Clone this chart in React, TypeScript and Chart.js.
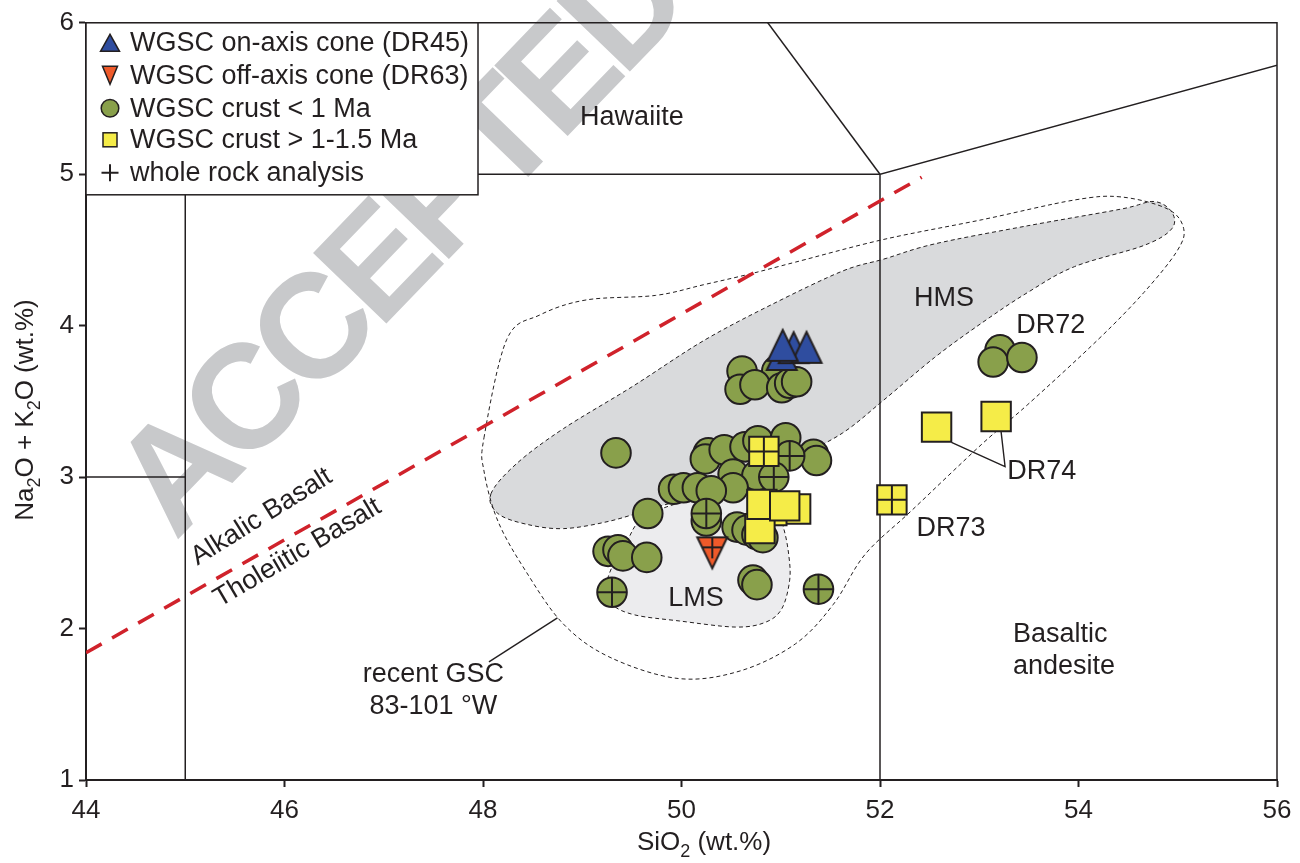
import React, { useEffect, useRef } from 'react';
import { Chart, registerables } from 'chart.js';

Chart.register(...registerables);

const FONT = '"Liberation Sans", Arial, Helvetica, sans-serif';
const INK = '#231f20';
const GREEN = '#89a04b';
const YELLOW = '#f5ec48';
const BLUE = '#2f4d9f';
const ORANGE = '#ef5a2a';
const RED = '#d0222b';
const HMS_FILL = '#d9dadc';
const LMS_FILL = '#ececee';
const WATERMARK = '#c8c9cb';

type P = [number, number];

// axes
const xMin = 44, xMax = 56, xStep = 2;
const yMin = 1, yMax = 6, yStep = 1;

// WGSC crust < 1 Ma (glass)
const youngCrust: P[] = [
  [50.61, 3.70], [50.96, 3.70], [50.59, 3.58], [50.74, 3.61], [51.01, 3.59], [51.09, 3.62], [51.16, 3.63],
  [49.34, 3.16], [50.27, 3.16], [50.24, 3.12], [50.43, 3.18], [50.64, 3.20], [50.77, 3.24], [51.05, 3.26],
  [51.33, 3.15], [51.36, 3.11], [50.52, 3.02], [50.76, 3.01], [50.52, 2.93], [49.92, 2.92], [50.02, 2.93],
  [50.16, 2.93], [50.30, 2.91], [49.66, 2.76], [50.25, 2.71],
  [50.56, 2.67], [50.66, 2.65], [50.76, 2.62], [50.82, 2.60],
  [49.26, 2.51], [49.36, 2.52], [49.41, 2.48], [49.65, 2.47],
  [50.72, 2.32], [50.76, 2.29],
  [53.21, 3.84], [53.14, 3.76], [53.43, 3.79],
];
// WGSC crust < 1 Ma, whole rock
const youngCrustWR: P[] = [[50.25, 2.76], [51.09, 3.14], [50.93, 3.00], [49.30, 2.24], [51.38, 2.26]];
// WGSC crust > 1-1.5 Ma (glass)
const oldCrust: P[] = [[51.15, 2.79], [50.91, 2.78], [50.79, 2.66], [50.81, 2.82], [51.04, 2.81], [52.57, 3.33], [53.17, 3.40]];
// WGSC crust > 1-1.5 Ma, whole rock
const oldCrustWR: P[] = [[50.83, 3.17], [52.12, 2.85]];
// on-axis cone DR45
const onAxisCone: P[] = [[51.01, 3.81], [51.13, 3.855], [51.26, 3.857], [51.02, 3.87]];
// off-axis cone DR63 (whole rock)
const offAxisConeWR: P[] = [[50.31, 2.50]];

// TAS field boundaries
const tasLines: P[][] = [
  [[45, 1], [45, 5], [49.4, 7.3]],
  [[44, 3], [45, 3]],
  [[45, 5], [52, 5]],
  [[52, 1], [52, 5], [57, 5.9]],
  [[52, 5], [49.4, 7.3]],
];
// Alkalic / tholeiitic divide
const alkTholLine: P[] = [[44, 1.84], [52.42, 4.98]];

// fields
const recentGSC: P[] = [
  [48.01, 3.26], [48.24, 3.91], [48.57, 4.07], [49.04, 4.17], [49.74, 4.20], [50.22, 4.27], [50.68, 4.34],
  [51.15, 4.42], [52.04, 4.57], [53.03, 4.70], [53.96, 4.83], [54.43, 4.85], [54.90, 4.77], [55.06, 4.64],
  [54.99, 4.49], [54.66, 4.22], [54.20, 3.91], [53.49, 3.48], [53.03, 3.22], [52.32, 2.78], [51.85, 2.49],
  [51.53, 2.16], [51.15, 1.90], [50.59, 1.72], [49.97, 1.67], [49.28, 1.81], [48.81, 2.03], [48.43, 2.38],
  [48.15, 2.71], [48.01, 3.04],
];
const hmsField: P[] = [
  [48.08, 2.89], [48.34, 3.09], [48.81, 3.32], [49.51, 3.60], [50.22, 3.90], [50.91, 4.14], [51.62, 4.36],
  [52.04, 4.44], [52.55, 4.54], [53.49, 4.66], [54.43, 4.77], [54.76, 4.82], [54.94, 4.75], [54.94, 4.64],
  [54.66, 4.53], [53.96, 4.39], [53.49, 4.22], [53.03, 4.02], [52.55, 3.79], [52.04, 3.51], [51.62, 3.29],
  [51.15, 3.13], [50.68, 2.99], [50.22, 2.89], [49.74, 2.80], [49.28, 2.71], [48.81, 2.66], [48.43, 2.69],
  [48.15, 2.76],
];
const lmsField: P[] = [
  [49.58, 2.71], [49.46, 2.59], [49.33, 2.45], [49.24, 2.28], [49.30, 2.16], [49.53, 2.09], [49.98, 2.05],
  [50.54, 2.01], [50.84, 2.04], [51.01, 2.13], [51.09, 2.32], [51.08, 2.49], [51.03, 2.66], [50.94, 2.81],
  [50.39, 2.88], [49.88, 2.81],
];

// leader lines
const leaderLines: P[][] = [
  [[48.06, 1.78], [48.75, 2.07]],
  [[52.72, 3.23], [53.26, 3.07], [53.22, 3.30]],
];

// annotation texts
const labelTexts = ['Hawaiite', 'HMS', 'DR72', 'DR74', 'DR73', 'LMS', 'Basaltic', 'andesite', 'recent GSC', '83-101 °W', 'Alkalic Basalt', 'Tholeiitic Basalt'];
const labelX = [49.50, 52.645, 53.72, 53.63, 52.715, 50.146, 53.34, 53.34, 47.50, 47.50, 45.77, 46.13];
const labelY = [5.375, 4.18, 4.0, 3.04, 2.658, 2.197, 1.961, 1.75, 1.697, 1.487, 2.737, 2.50];
const labelAlign: CanvasTextAlign[] = ['center', 'center', 'center', 'center', 'center', 'center', 'left', 'left', 'center', 'center', 'center', 'center'];
const labelAngle = [0, 0, 0, 0, 0, 0, 0, 0, 0, 0, -32, -30.5];

const legendLabels = [
  'WGSC on-axis cone (DR45)',
  'WGSC off-axis cone (DR63)',
  'WGSC crust < 1 Ma',
  'WGSC crust > 1-1.5 Ma',
  'whole rock analysis',
];

const xTitle = [{ t: 'SiO' }, { t: '2', sub: true }, { t: ' (wt.%)' }];
const yTitle = [{ t: 'Na' }, { t: '2', sub: true }, { t: 'O + K' }, { t: '2', sub: true }, { t: 'O (wt.%)' }];

function makeTriangle(w: number, h: number, fill: string, down: boolean, cross: boolean) {
  const pad = 4;
  const c = document.createElement('canvas');
  c.width = w + pad * 2;
  c.height = h + pad * 2;
  const g = c.getContext('2d')!;
  g.lineWidth = 2;
  g.strokeStyle = INK;
  g.fillStyle = fill;
  g.lineJoin = 'miter';
  g.beginPath();
  if (down) {
    g.moveTo(pad, pad);
    g.lineTo(pad + w, pad);
    g.lineTo(pad + w / 2, pad + h);
  } else {
    g.moveTo(pad, pad + h);
    g.lineTo(pad + w / 2, pad);
    g.lineTo(pad + w, pad + h);
  }
  g.closePath();
  g.fill();
  g.stroke();
  if (cross) {
    const d = h * 0.32;
    const hw = (w / 2) * (1 - d / h);
    g.beginPath();
    g.moveTo(pad + w / 2, pad);
    g.lineTo(pad + w / 2, pad + h * 0.68);
    g.moveTo(pad + w / 2 - hw, pad + d);
    g.lineTo(pad + w / 2 + hw, pad + d);
    g.stroke();
  }
  return c;
}

function smoothClosed(ctx: CanvasRenderingContext2D, pts: { x: number; y: number }[]) {
  const n = pts.length;
  ctx.beginPath();
  ctx.moveTo(pts[0].x, pts[0].y);
  for (let i = 0; i < n; i++) {
    const p0 = pts[(i - 1 + n) % n], p1 = pts[i], p2 = pts[(i + 1) % n], p3 = pts[(i + 2) % n];
    const t = 1 / 6;
    ctx.bezierCurveTo(
      p1.x + (p2.x - p0.x) * t, p1.y + (p2.y - p0.y) * t,
      p2.x - (p3.x - p1.x) * t, p2.y - (p3.y - p1.y) * t,
      p2.x, p2.y,
    );
  }
  ctx.closePath();
}

function drawRich(ctx: CanvasRenderingContext2D, parts: { t: string; sub?: boolean }[], cx: number, baseY: number, size: number) {
  const subSize = Math.round(size * 0.68);
  let total = 0;
  for (const p of parts) {
    ctx.font = `${p.sub ? subSize : size}px ${FONT}`;
    total += ctx.measureText(p.t).width;
  }
  let x = cx - total / 2;
  ctx.textAlign = 'left';
  ctx.textBaseline = 'alphabetic';
  for (const p of parts) {
    ctx.font = `${p.sub ? subSize : size}px ${FONT}`;
    ctx.fillText(p.t, x, p.sub ? baseY + size * 0.27 : baseY);
    x += ctx.measureText(p.t).width;
  }
}

const pt = (arr: P[]) => arr.map(([x, y]) => ({ x, y }));

export default function App() {
  const ref = useRef<HTMLCanvasElement | null>(null);

  useEffect(() => {
    const canvas = ref.current;
    if (!canvas) return;

    const triUp = makeTriangle(30, 31, BLUE, false, false);
    const triDownCross = makeTriangle(30, 31, ORANGE, true, true);

    const decor = {
      id: 'decor',
      beforeDatasetsDraw(chart: any) {
        const { ctx, chartArea: ca, scales } = chart;
        const toPx = (arr: P[]) => arr.map(([x, y]) => ({ x: scales.x.getPixelForValue(x), y: scales.y.getPixelForValue(y) }));

        // watermark
        ctx.save();
        ctx.translate(ca.left + 318, ca.top + 224);
        ctx.rotate((-46 * Math.PI) / 180);
        ctx.fillStyle = WATERMARK;
        ctx.font = `bold 148px ${FONT}`;
        try { (ctx as any).letterSpacing = '-9px'; } catch (e) { /* ignore */ }
        ctx.textAlign = 'center';
        ctx.textBaseline = 'middle';
        ctx.fillText('ACCEPTED', 0, 0);
        ctx.restore();

        ctx.save();
        ctx.beginPath();
        ctx.rect(ca.left, ca.top, ca.right - ca.left, ca.bottom - ca.top);
        ctx.clip();
        ctx.lineWidth = 1;
        ctx.strokeStyle = INK;
        ctx.setLineDash([4, 3]);

        smoothClosed(ctx, toPx(lmsField));
        ctx.fillStyle = LMS_FILL;
        ctx.fill();
        ctx.stroke();

        smoothClosed(ctx, toPx(hmsField));
        ctx.fillStyle = HMS_FILL;
        ctx.fill();
        ctx.stroke();

        smoothClosed(ctx, toPx(recentGSC));
        ctx.stroke();
        ctx.restore();

        // frame top / right
        ctx.save();
        ctx.strokeStyle = INK;
        ctx.lineWidth = 1.5;
        ctx.beginPath();
        ctx.moveTo(ca.left, ca.top);
        ctx.lineTo(ca.right, ca.top);
        ctx.lineTo(ca.right, ca.bottom);
        ctx.stroke();
        ctx.restore();
      },
      afterDatasetsDraw(chart: any) {
        const { ctx, chartArea: ca, scales } = chart;
        ctx.save();
        ctx.fillStyle = INK;
        // annotations
        labelTexts.forEach((t, i) => {
          const x = scales.x.getPixelForValue(labelX[i]);
          const y = scales.y.getPixelForValue(labelY[i]);
          ctx.save();
          ctx.translate(x, y);
          ctx.rotate((labelAngle[i] * Math.PI) / 180);
          ctx.font = `27px ${FONT}`;
          ctx.textAlign = labelAlign[i];
          ctx.textBaseline = 'middle';
          ctx.fillText(t, 0, 0);
          ctx.restore();
        });

        // legend
        const bx = ca.left, by = ca.top, bw = 392, bh = 172;
        ctx.fillStyle = '#ffffff';
        ctx.fillRect(bx, by, bw, bh);
        ctx.strokeStyle = INK;
        ctx.lineWidth = 1.5;
        ctx.strokeRect(bx, by, bw, bh);
        const sx = bx + 24;
        const rows = [20, 52.5, 85.5, 117, 150].map((d) => by + d);
        ctx.lineWidth = 1.5;
        // triangle up
        ctx.beginPath();
        ctx.moveTo(sx - 9.5, rows[0] + 8.5);
        ctx.lineTo(sx, rows[0] - 8.5);
        ctx.lineTo(sx + 9.5, rows[0] + 8.5);
        ctx.closePath();
        ctx.fillStyle = BLUE;
        ctx.fill();
        ctx.stroke();
        // triangle down
        ctx.beginPath();
        ctx.moveTo(sx - 7.5, rows[1] - 9);
        ctx.lineTo(sx + 7.5, rows[1] - 9);
        ctx.lineTo(sx, rows[1] + 9);
        ctx.closePath();
        ctx.fillStyle = ORANGE;
        ctx.fill();
        ctx.stroke();
        // circle
        ctx.beginPath();
        ctx.arc(sx, rows[2], 8.8, 0, Math.PI * 2);
        ctx.fillStyle = GREEN;
        ctx.fill();
        ctx.stroke();
        // square
        ctx.fillStyle = YELLOW;
        ctx.fillRect(sx - 7, rows[3] - 7, 14, 14);
        ctx.strokeRect(sx - 7, rows[3] - 7, 14, 14);
        // plus
        ctx.lineWidth = 2;
        ctx.beginPath();
        ctx.moveTo(sx - 8.5, rows[4]);
        ctx.lineTo(sx + 8.5, rows[4]);
        ctx.moveTo(sx, rows[4] - 8.5);
        ctx.lineTo(sx, rows[4] + 8.5);
        ctx.stroke();

        ctx.fillStyle = INK;
        ctx.font = `27px ${FONT}`;
        ctx.textAlign = 'left';
        ctx.textBaseline = 'middle';
        legendLabels.forEach((t, i) => ctx.fillText(t, bx + 44, rows[i] + 1));

        // axis titles
        ctx.fillStyle = INK;
        drawRich(ctx, xTitle, 704, 850, 26);
        ctx.save();
        ctx.translate(33, 410);
        ctx.rotate(-Math.PI / 2);
        drawRich(ctx, yTitle, 0, 0, 26);
        ctx.restore();
        ctx.restore();
      },
    };

    const lineDs = (data: P[], color: string, width: number, dash: number[] = []) => ({
      data: pt(data),
      showLine: true,
      borderColor: color,
      borderWidth: width,
      borderDash: dash,
      pointRadius: 0,
      fill: false,
      tension: 0,
    });

    // listed bottom-most first; reversed below because Chart.js paints the first dataset on top
    const bottomToTop: any[] = [
      ...tasLines.map((l) => lineDs(l, INK, 1.5)),
      lineDs(alkTholLine, RED, 3.5, [18, 12]),
      ...leaderLines.map((l) => lineDs(l, INK, 1.4)),
      { data: pt(youngCrust), pointStyle: 'circle', pointRadius: 14.8, backgroundColor: GREEN, borderColor: INK, borderWidth: 2 },
      { data: pt(youngCrustWR), pointStyle: 'circle', pointRadius: 14.8, backgroundColor: GREEN, borderColor: INK, borderWidth: 2 },
      { data: pt(youngCrustWR), pointStyle: 'cross', pointRadius: 14.8, backgroundColor: 'rgba(0,0,0,0)', borderColor: INK, borderWidth: 2 },
      { data: pt(oldCrust), pointStyle: 'rect', pointRadius: 20.8, backgroundColor: YELLOW, borderColor: INK, borderWidth: 2 },
      { data: pt(oldCrustWR), pointStyle: 'rect', pointRadius: 20.8, backgroundColor: YELLOW, borderColor: INK, borderWidth: 2 },
      { data: pt(oldCrustWR), pointStyle: 'cross', pointRadius: 14.7, backgroundColor: 'rgba(0,0,0,0)', borderColor: INK, borderWidth: 2 },
      { data: pt(onAxisCone), pointStyle: triUp, pointRadius: 15 },
      { data: pt(offAxisConeWR), pointStyle: triDownCross, pointRadius: 15 },
    ];

    const chart = new Chart(canvas, {
      type: 'scatter',
      data: { datasets: bottomToTop.slice().reverse() },
      options: {
        responsive: false,
        animation: false,
        devicePixelRatio: 1,
        events: [],
        layout: { padding: { top: 20, right: 23, left: 0, bottom: 0 } },
        plugins: { legend: { display: false }, tooltip: { enabled: false } },
        scales: {
          x: {
            type: 'linear',
            min: xMin,
            max: xMax,
            afterFit: (s: any) => { s.height = 83; },
            border: { display: true, color: INK, width: 2 },
            grid: { drawOnChartArea: false, drawTicks: true, tickLength: 7, tickWidth: 2, tickColor: INK },
            ticks: { stepSize: xStep, color: INK, font: { family: FONT, size: 26 }, padding: 8, maxRotation: 0, autoSkip: false },
          },
          y: {
            type: 'linear',
            min: yMin,
            max: yMax,
            afterFit: (s: any) => { s.width = 86; },
            border: { display: true, color: INK, width: 2 },
            grid: { drawOnChartArea: false, drawTicks: true, tickLength: 7, tickWidth: 2, tickColor: INK },
            ticks: { stepSize: yStep, color: INK, font: { family: FONT, size: 26 }, padding: 5 },
          },
        },
      } as any,
      plugins: [decor],
    });

    return () => chart.destroy();
  }, []);

  return (
    <div style={{ position: 'absolute', left: 0, top: 0, width: 1300, height: 863, background: '#fff' }}>
      <canvas ref={ref} width={1300} height={863} style={{ display: 'block' }} />
    </div>
  );
}
